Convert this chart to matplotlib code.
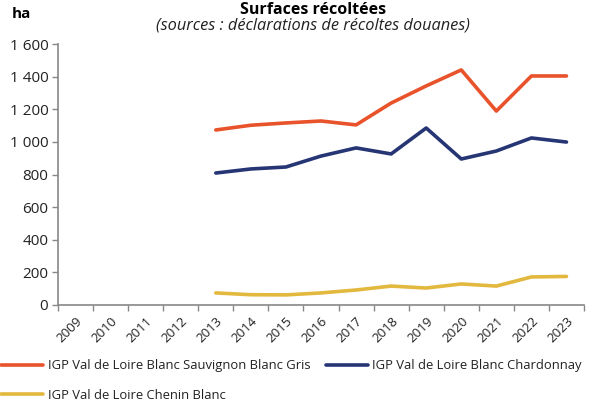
import matplotlib

matplotlib.use("Agg")
import matplotlib.pyplot as plt
import numpy as np
from matplotlib.ticker import FuncFormatter, FixedLocator

years = [str(y) for y in range(2009, 2024)]
series_names = [
    "IGP Val de Loire Blanc Sauvignon Blanc Gris",
    "IGP Val de Loire Blanc Chardonnay",
    "IGP Val de Loire Chenin Blanc",
]
# data only starts in 2013
sauvignon = [np.nan] * 4 + [1073, 1102, 1116, 1128, 1104, 1238, 1343, 1441, 1189, 1404, 1404]
chardonnay = [np.nan] * 4 + [809, 834, 846, 913, 963, 926, 1085, 895, 944, 1024, 999]
chenin = [np.nan] * 4 + [74, 63, 62, 74, 92, 116, 104, 129, 116, 172, 175]
colors = ["#E8532B", "#263574", "#E3B83E"]

plt.rcParams["font.family"] = ["Open Sans", "DejaVu Sans"]

fig = plt.figure(figsize=(5.97, 4.01), dpi=100)
ax = fig.add_axes([58 / 597, 1 - 305 / 401, (584 - 58) / 597, (305 - 44) / 401])

x = np.arange(len(years))
lines = []
for vals, name, col in zip([sauvignon, chardonnay, chenin], series_names, colors):
    (ln,) = ax.plot(x, vals, color=col, lw=2.6, label=name, solid_capstyle="round")
    lines.append(ln)

ax.set_xlim(-0.5, len(years) - 0.5)
ax.set_ylim(0, 1600)
ax.set_yticks(np.arange(0, 1601, 200))
ax.yaxis.set_major_formatter(FuncFormatter(lambda v, p: f"{int(v):,}".replace(",", " ")))
ax.set_xticks(x)
ax.set_xticklabels(years, rotation=45, ha="right", rotation_mode="anchor", fontsize=9.5)
ax.xaxis.set_minor_locator(FixedLocator(np.arange(-0.5, len(years), 1.0)))
ax.tick_params(axis="x", which="major", length=0, pad=7)
ax.tick_params(axis="x", which="minor", length=4, color="#888888", width=1)
ax.tick_params(axis="y", length=4, color="#888888", width=1, labelsize=11, pad=3,
               labelcolor="#222222")
ax.tick_params(axis="x", labelcolor="#222222")

for s in ["top", "right"]:
    ax.spines[s].set_visible(False)
for s in ["left", "bottom"]:
    ax.spines[s].set_color("#888888")
    ax.spines[s].set_linewidth(1.2)

fig.text(12 / 597, 1 - 14 / 401, "ha", fontsize=11, fontweight="bold", va="center")
fig.text(313 / 597, 1 - 10 / 401, "Surfaces récoltées", fontsize=11.5, fontweight="bold",
         ha="center", va="center")
fig.text(313 / 597, 1 - 26 / 401, "(sources : déclarations de récoltes douanes)",
         fontsize=11.8, style="italic", ha="center", va="center", color="#222222")

# reorder so the legend reads row by row like the original
order = [0, 2, 1]
fig.legend(handles=[lines[i] for i in order], loc="upper left",
           bbox_to_anchor=(-4 / 597, 1 - 354 / 401),
           ncol=2, frameon=False, fontsize=9.4, handlelength=3.2, handletextpad=0.35,
           columnspacing=1.2, labelspacing=1.25, borderaxespad=0, labelcolor="#222222")

fig.savefig("out.png", dpi=100)
